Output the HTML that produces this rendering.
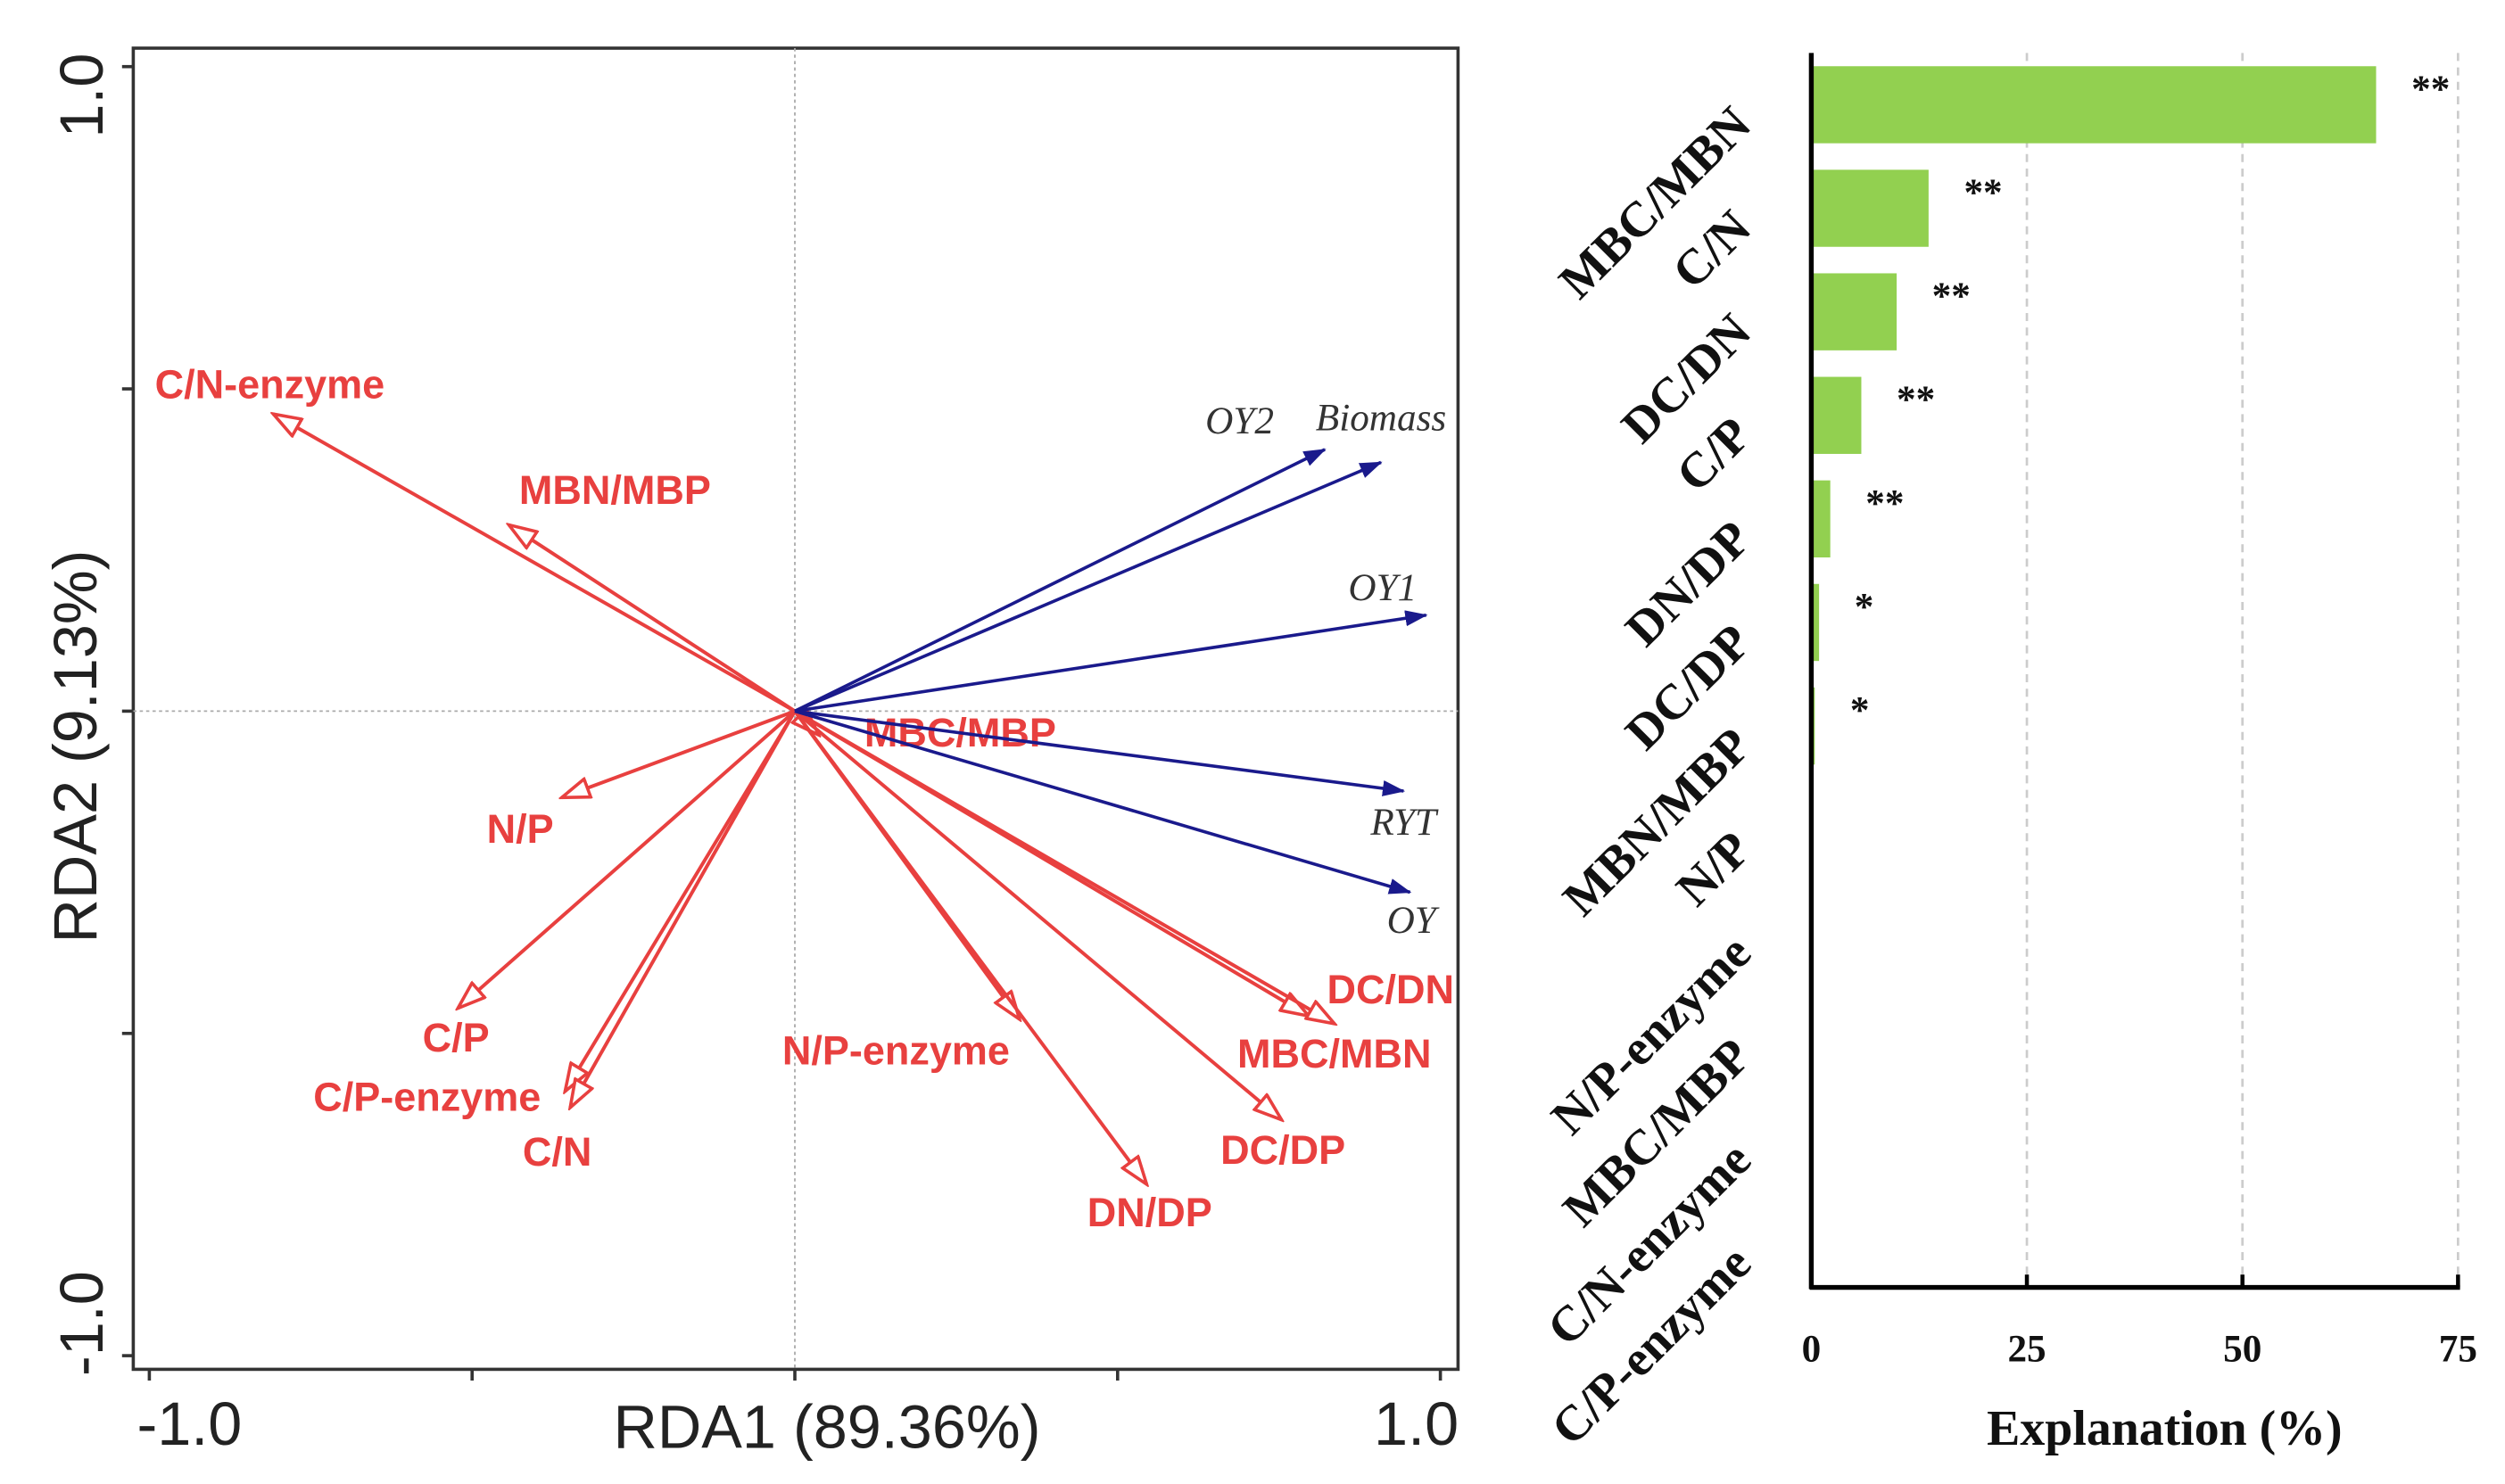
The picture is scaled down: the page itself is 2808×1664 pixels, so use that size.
<!DOCTYPE html>
<html><head><meta charset="utf-8"><style>
html,body{margin:0;padding:0;background:#fff;}
svg{display:block;}
.red{font-family:"Liberation Sans",sans-serif;font-weight:bold;font-size:25px;fill:#e8403f;}
.blu{font-family:"Liberation Serif",serif;font-style:italic;font-size:24px;fill:#333;}
.ax{font-family:"Liberation Sans",sans-serif;font-size:38px;fill:#222;}
.ser{font-family:"Liberation Serif",serif;font-weight:bold;fill:#111;}
</style></head><body>
<svg id="fig" width="2808" height="1664" viewBox="0 0 1560 924.44" preserveAspectRatio="none" xmlns="http://www.w3.org/2000/svg">
<defs>
<marker id="bh" markerWidth="14" markerHeight="10" refX="13" refY="5" orient="auto" markerUnits="userSpaceOnUse"><path d="M0,0 L14,5 L0,10 Z" fill="#1a1a8c"/></marker>
<marker id="rh" markerWidth="20" markerHeight="14" refX="18" refY="7" orient="auto" markerUnits="userSpaceOnUse"><path d="M1,1 L18,7 L1,13 Z" fill="#fff" stroke="#e8403f" stroke-width="2"/></marker>
</defs>
<g id="rda"></g>
<g id="bar"></g>
</svg>
<script>
// RDA data
const respNames=["OY2","Biomass","OY1","RYT","OY"];
const respX=[0.821,0.908,0.978,0.943,0.953];
const respY=[0.406,0.386,0.149,-0.124,-0.281];
const envNames=["C/N-enzyme","MBN/MBP","N/P","C/P","C/P-enzyme","C/N","MBC/MBP","N/P-enzyme","DN/DP","DC/DP","DC/DN","MBC/MBN"];
const envX=[-0.808,-0.443,-0.361,-0.522,-0.356,-0.348,0.037,0.348,0.545,0.754,0.796,0.836];
const envY=[0.461,0.289,-0.134,-0.461,-0.590,-0.615,-0.037,-0.478,-0.734,-0.634,-0.473,-0.485];
const rdaTicks=[-1,-0.5,0,0.5,1];
// Bar data
const barCats=["MBC/MBN","C/N","DC/DN","C/P","DN/DP","DC/DP","MBN/MBP","N/P","N/P-enzyme","MBC/MBP","C/N-enzyme","C/P-enzyme"];
const barVals=[65.5,13.6,9.9,5.8,2.2,0.9,0.4,0,0,0,0,0];
const barSig=["**","**","**","**","**","*","*","","","","",""];
const barTicks=[0,25,50,75];

const NS="http://www.w3.org/2000/svg";
function mk(p,t,a,txt){const e=document.createElementNS(NS,t);for(const k in a)e.setAttribute(k,a[k]);if(txt!==undefined)e.textContent=txt;p.appendChild(e);return e;}
const rda=document.getElementById('rda');
const sx=v=>495+v*402, sy=v=>443-v*401.5;
let e=mk(rda,'rect',{x:83,y:30,width:825,height:823,fill:'none',stroke:'#333','stroke-width':2});

e=mk(rda,'line',{x1:sx(0),x2:sx(0),y1:30,y2:853,stroke:'#aaa','stroke-width':1,'stroke-dasharray':'2,2'});

e=mk(rda,'line',{x1:83,x2:908,y1:sy(0),y2:sy(0),stroke:'#aaa','stroke-width':1,'stroke-dasharray':'2,2'});

rdaTicks.forEach(t=>{
 e=mk(rda,'line',{x1:sx(t),x2:sx(t),y1:853,y2:860,stroke:'#333','stroke-width':2});
 
 e=mk(rda,'line',{x1:76,x2:83,y1:sy(t),y2:sy(t),stroke:'#333','stroke-width':2});
 
});
e=mk(rda,'text',{x:sx(-1)+25,y:900,'text-anchor':'middle',class:'ax'},'-1.0');

e=mk(rda,'text',{x:sx(1)-15,y:900,'text-anchor':'middle',class:'ax'},'1.0');

e=mk(rda,'text',{x:0,y:0,'text-anchor':'middle',class:'ax',transform:`translate(64,${sy(1)+18}) rotate(-90)`},'1.0');

e=mk(rda,'text',{x:0,y:0,'text-anchor':'middle',class:'ax',transform:`translate(64,${sy(-1)-20}) rotate(-90)`},'-1.0');

e=mk(rda,'text',{x:515,y:902,'text-anchor':'middle',class:'ax'},'RDA1 (89.36%)');

e=mk(rda,'text',{x:0,y:0,'text-anchor':'middle',class:'ax',transform:'translate(60,465) rotate(-90)'},'RDA2 (9.13%)');

const envLab=[[168,248],[383,314],[324,525],[284,655],[266,692],[347,726],[598,465],[558,663],[716,764],[799,725],[866,625],[831,665]];
envNames.forEach((n,i)=>{
 e=mk(rda,'line',{x1:sx(0),y1:sy(0),x2:sx(envX[i]),y2:sy(envY[i]),stroke:'#e8403f','stroke-width':2.2,'marker-end':'url(#rh)'});
 
 e=mk(rda,'text',{x:envLab[i][0],y:envLab[i][1],'text-anchor':'middle',class:'red'},n);
 
});
const respLab=[[772,270],[860,268],[861,374],[874,520],[879,581]];
respNames.forEach((n,i)=>{
 e=mk(rda,'line',{x1:sx(0),y1:sy(0),x2:sx(respX[i]),y2:sy(respY[i]),stroke:'#1a1a8c','stroke-width':2,'marker-end':'url(#bh)'});
 
 e=mk(rda,'text',{x:respLab[i][0],y:respLab[i][1],'text-anchor':'middle',class:'blu'},n);
 
});
const bar=document.getElementById('bar');
const bx=v=>1128+v*5.37, top0=33, pitch=64.5;
barTicks.forEach(t=>{
 if(t>0){e=mk(bar,'line',{x1:bx(t),x2:bx(t),y1:33,y2:802,stroke:'#ccc','stroke-width':1.5,'stroke-dasharray':'5,4'});
 
 e=mk(bar,'line',{x1:bx(t),x2:bx(t),y1:794,y2:802,stroke:'#000','stroke-width':2.5});
 }
 e=mk(bar,'text',{x:bx(t),y:848,'text-anchor':'middle',class:'ser','font-size':'24'},String(t));
 
});
barCats.forEach((c,i)=>{
 const cy=top0+pitch*(i+0.5);
 if(barVals[i]>0){e=mk(bar,'rect',{x:bx(0),y:cy-24,width:bx(barVals[i])-bx(0),height:48,fill:'#92d050'});
 }
 if(barSig[i]){e=mk(bar,'text',{x:bx(barVals[i])+22,y:cy-2,class:'ser','font-size':'24','font-weight':'normal'},barSig[i]);
 }
 e=mk(bar,'text',{x:0,y:0,'text-anchor':'end',class:'ser','font-size':'31',transform:`translate(1092,${cy+14}) rotate(-45)`},c);
 
});
e=mk(bar,'line',{x1:1128,x2:1128,y1:33,y2:803,stroke:'#000','stroke-width':3});

e=mk(bar,'line',{x1:1127,x2:1532,y1:802,y2:802,stroke:'#000','stroke-width':3});

e=mk(bar,'text',{x:1348,y:900,'text-anchor':'middle',class:'ser','font-size':'31'},'Explanation (%)');

</script>
</body></html>
